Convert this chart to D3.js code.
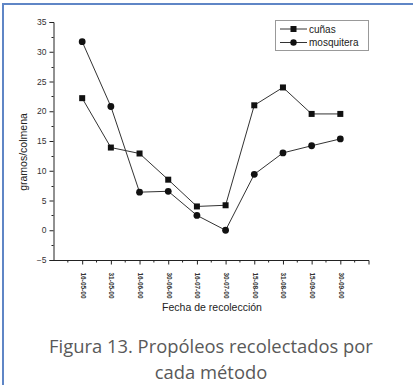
<!DOCTYPE html>
<html>
<head>
<meta charset="utf-8">
<script src="https://cdn.jsdelivr.net/npm/d3@7"></script>
<style>
  html, body { margin: 0; padding: 0; background: #fff; }
  svg { display: block; }
</style>
</head>
<body>
<svg id="fig" width="413" height="385"></svg>
<script>
// Collection dates (x categories)
const fechas = ["16-05-00", "31-05-00", "16-06-00", "30-06-00", "16-07-00",
                "30-07-00", "15-08-00", "31-08-00", "15-09-00", "30-09-00"];
// Propolis collected per hive (g), by method
const cunas      = [22.2, 13.9, 12.9, 8.5, 4.0, 4.2, 21.0, 24.0, 19.55, 19.55];
const mosquitera = [31.7, 20.8, 6.4, 6.55, 2.5, 0.0, 9.4, 13.0, 14.2, 15.35];
// Y-axis tick labels
const yTicks = [-5, 0, 5, 10, 15, 20, 25, 30, 35];

const svg = d3.select("#fig");

// frame of the figure box
svg.append("path")
  .attr("d", "M3,385 L3,4 L413,4")
  .attr("fill", "none")
  .attr("stroke", "#5f86c6")
  .attr("stroke-width", 2);

const x = d3.scaleLinear().domain([-1, 10]).range([53.5, 369]);
const y = d3.scaleLinear().domain([-5, 35]).range([260, 22]);

const axisColor = "#222";

// y axis
const yAxis = d3.axisLeft(y).tickValues(yTicks).tickSize(4).tickPadding(3);
const gy = svg.append("g").attr("transform", "translate(53.5,0)").call(yAxis);
gy.select(".domain").attr("stroke", axisColor);
gy.selectAll(".tick line").attr("stroke", axisColor);
gy.selectAll(".tick text")
  .attr("font-family", "Liberation Sans, Arial, sans-serif")
  .attr("font-size", 8.5).attr("fill", "#333");
// y minor ticks
const yMinor = d3.range(-2.5, 35, 5);
svg.append("g").selectAll("line").data(yMinor).join("line")
  .attr("x1", 53.5).attr("x2", 51.5)
  .attr("y1", d => Math.round(y(d)) + 0.5).attr("y2", d => Math.round(y(d)) + 0.5)
  .attr("stroke", axisColor);

// x axis
const xAxis = d3.axisBottom(x).tickValues(d3.range(0, 10)).tickSize(4).tickFormat(i => fechas[i]);
const gx = svg.append("g").attr("transform", "translate(0,260.5)").call(xAxis);
gx.select(".domain").attr("stroke", axisColor).attr("d", `M${x(-1)},0H${x(10)}`);
gx.selectAll(".tick line").attr("stroke", axisColor);
gx.selectAll(".tick text")
  .attr("font-family", "Liberation Sans, Arial, sans-serif")
  .attr("font-size", 6.5).attr("font-weight", "bold").attr("fill", "#333")
  .attr("transform", "rotate(90)")
  .attr("x", 12).attr("y", 0).attr("dy", "0.32em")
  .attr("text-anchor", "start");
// x minor ticks
const xMinor = d3.range(-0.5, 10.5, 1).concat([10]);
svg.append("g").selectAll("line").data(xMinor).join("line")
  .attr("x1", d => x(d)).attr("x2", d => x(d))
  .attr("y1", 260.5).attr("y2", d => d === 10 ? 264.5 : 262.5)
  .attr("stroke", axisColor);

// axis titles
svg.append("text")
  .attr("x", 212).attr("y", 311)
  .attr("text-anchor", "middle")
  .attr("font-family", "Liberation Sans, Arial, sans-serif")
  .attr("font-size", 10.5).attr("fill", "#222")
  .text("Fecha de recolección");
svg.append("text")
  .attr("transform", "translate(27,152) rotate(-90)")
  .attr("text-anchor", "middle")
  .attr("font-family", "Liberation Sans, Arial, sans-serif")
  .attr("font-size", 10.5).attr("fill", "#222")
  .text("gramos/colmena");

// series
const line = d3.line().x((d, i) => x(i)).y(d => y(d));
const lineColor = "#333";
svg.append("path").datum(cunas).attr("d", line)
  .attr("fill", "none").attr("stroke", lineColor).attr("stroke-width", 1);
svg.append("path").datum(mosquitera).attr("d", line)
  .attr("fill", "none").attr("stroke", lineColor).attr("stroke-width", 1);

const sq = 6;
svg.append("g").selectAll("rect").data(cunas).join("rect")
  .attr("x", (d, i) => x(i) - sq / 2).attr("y", d => y(d) - sq / 2)
  .attr("width", sq).attr("height", sq).attr("fill", "#111");
svg.append("g").selectAll("circle").data(mosquitera).join("circle")
  .attr("cx", (d, i) => x(i)).attr("cy", d => y(d)).attr("r", 3.4).attr("fill", "#111");

// legend
const lg = svg.append("g");
lg.append("rect").attr("x", 275.5).attr("y", 20.5).attr("width", 93).attr("height", 30)
  .attr("fill", "#fff").attr("stroke", "#999").attr("stroke-width", 1);
const legendItems = [{name: "cuñas", shape: "square"}, {name: "mosquitera", shape: "circle"}];
legendItems.forEach((it, k) => {
  const cy = 29 + k * 13.5;
  lg.append("line").attr("x1", 280).attr("x2", 307).attr("y1", cy).attr("y2", cy)
    .attr("stroke", lineColor);
  if (it.shape === "square") {
    lg.append("rect").attr("x", 293.5 - 3).attr("y", cy - 3).attr("width", 6).attr("height", 6).attr("fill", "#111");
  } else {
    lg.append("circle").attr("cx", 293.5).attr("cy", cy).attr("r", 3.2).attr("fill", "#111");
  }
  lg.append("text").attr("x", 309).attr("y", cy).attr("dy", "0.35em")
    .attr("font-family", "Liberation Sans, Arial, sans-serif")
    .attr("font-size", 10).attr("fill", "#222").text(it.name);
});

// caption, sized so the first line spans about 324px
const caption = ["Figura 13. Propóleos recolectados por", "cada método"];
const cap = svg.append("g").selectAll("text").data(caption).join("text")
  .attr("x", 211).attr("y", (d, i) => 353 + i * 26)
  .attr("text-anchor", "middle")
  .attr("font-family", "Open Sans, sans-serif")
  .attr("font-size", 19).attr("fill", "#595959")
  .text(d => d);
const w0 = cap.node().getComputedTextLength();
if (w0 > 0) cap.attr("font-size", Math.min(19, 19 * 324 / w0));
</script>
</body>
</html>
